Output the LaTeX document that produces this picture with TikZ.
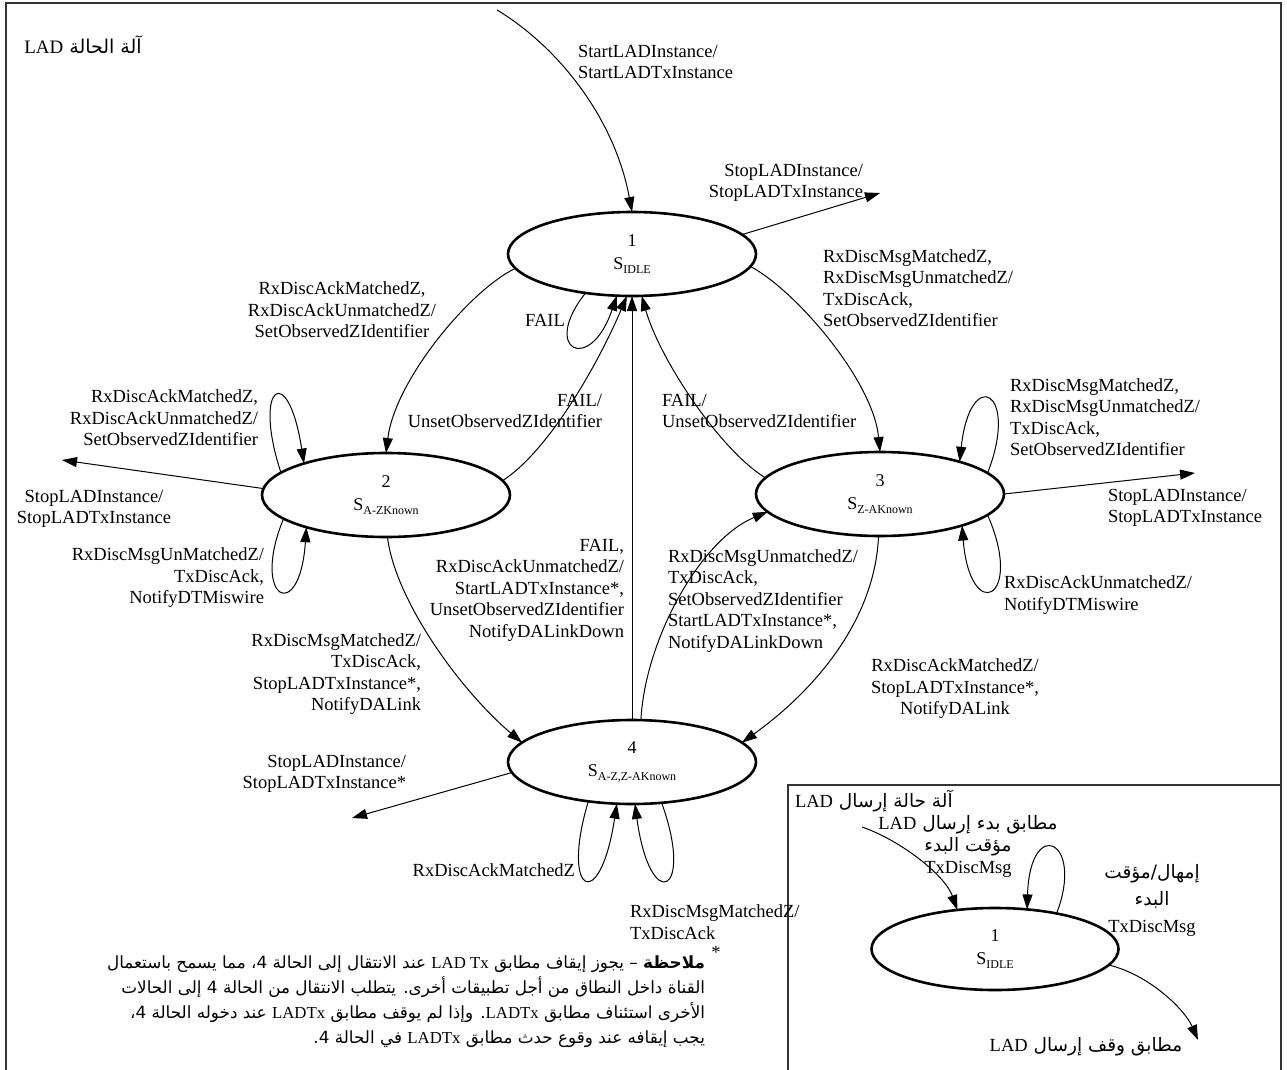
\documentclass[tikz,border=0pt]{standalone}
\usepackage{fontspec}
\setmainfont{Liberation Serif}
\newfontfamily\arabicfont[Script=Arabic]{DejaVu Sans}
\TeXXeTstate=1
\usetikzlibrary{arrows.meta,shapes.geometric}

% Latin words embedded in right-to-left text
\newcommand\lat[1]{\beginL{\rmfamily #1}\endL}
% state name with lowered index
\newcommand\stname[1]{S\raisebox{-0.45ex}{\fontsize{12}{12}\selectfont #1}}

\begin{document}
\begin{tikzpicture}[x=1pt,y=-1pt,
  every node/.style={inner sep=0pt,outer sep=0pt},
  lbl/.style={font=\fontsize{18.5}{21.5}\selectfont},
  ar/.style={font=\arabicfont\fontsize{18.5}{22}\selectfont},
  state/.style={ellipse,draw,line width=2.6pt,minimum width=248pt,minimum height=84pt,
    align=center,font=\fontsize{18}{23}\selectfont},
  conn/.style={line width=1pt,-{Triangle[length=15pt,width=10pt]}},
  frame/.style={line width=1.6pt,draw=black!80},
]
\useasboundingbox (0,0) rectangle (1287,1070);

% frames
\draw[frame] (6,1070) -- (6,3) -- (1281,3) -- (1281,1070);
\draw[frame] (788,1070) -- (788,785) -- (1281,785);

\node[ar,font=\arabicfont\fontsize{19}{22}\selectfont] (title) at (83,45) {\beginR آلة الحالة \lat{LAD}\endR};

% states of the LAD state machine
\node[state] (s1) at (632,254) {1\\\stname{IDLE}};
\node[state] (s2) at (386,495) {2\\\stname{A-ZKnown}};
\node[state] (s3) at (880,494) {3\\\stname{Z-AKnown}};
\node[state] (s4) at (632,762) {4\\\stname{A-Z,Z-AKnown}};

% free ends
\coordinate (startsrc) at (497,10);
\coordinate (stop1end) at (880,193);
\coordinate (stop2end) at (62,460);
\coordinate (stop3end) at (1195,473);
\coordinate (stop4end) at (352,818);

% transitions
\draw[conn] (startsrc) .. controls (560,48) and (615,120) .. (s1.north);
\draw[conn] (s1.10) -- (stop1end);
\draw[conn] (s1.187) .. controls (470,290) and (395,380) .. (s2.north);
\draw[conn] (s1.-6) .. controls (795,290) and (873,380) .. (s3.north);
\draw[conn] (s1.220) .. controls (540,350) and (590,375) .. (s1.250);
\draw[conn] (s2.7) .. controls (550,450) and (600,360) .. (s1.263);
\draw[conn] (s3.172) .. controls (720,450) and (660,360) .. (s1.-77);
\draw[conn] (s4.north) -- (s1.south);
\draw[conn] (s2.168) .. controls (252,385) and (288,360) .. (s2.159);
\draw[conn] (s2.177) -- (stop2end);
\draw[conn] (s2.193) .. controls (250,600) and (300,625) .. (s2.202);
\draw[conn] (s2.272) .. controls (395,600) and (460,690) .. (s4.170);
\draw[conn] (s4.78) .. controls (645,640) and (700,540) .. (s3.189);
\draw[conn] (s3.268) .. controls (875,620) and (815,690) .. (s4.10);
\draw[conn] (s3.11) .. controls (1020,390) and (970,365) .. (s3.22);
\draw[conn] (s3.east) -- (stop3end);
\draw[conn] (s3.-11) .. controls (1025,600) and (970,625) .. (s3.-21);
\draw[conn] (s4.185) -- (stop4end);
\draw[conn] (s4.222) .. controls (560,895) and (600,915) .. (s4.250);
\draw[conn] (s4.306) .. controls (695,895) and (650,915) .. (s4.274);

% transition labels
\node[lbl,anchor=west,align=left] (lstart) at (578,62) {StartLADInstance/\\StartLADTxInstance};
\node[lbl,anchor=east,align=right] (lstop1) at (863,183) {StopLADInstance/\\StopLADTxInstance};
\node[lbl,align=center] (l12) at (342,310) {RxDiscAckMatchedZ,\\RxDiscAckUnmatchedZ/\\SetObservedZIdentifier};
\node[lbl,anchor=west,align=left] (l13) at (823,288) {RxDiscMsgMatchedZ,\\RxDiscMsgUnmatchedZ/\\TxDiscAck,\\SetObservedZIdentifier};
\node[lbl] (lfail) at (545,320) {FAIL};
\node[lbl,anchor=east,align=right] (l21) at (602,411) {FAIL/\\UnsetObservedZIdentifier};
\node[lbl,anchor=west,align=left] (l31) at (662,411) {FAIL/\\UnsetObservedZIdentifier};
\node[lbl,anchor=east,align=right] (l22a) at (258,418) {RxDiscAckMatchedZ,\\RxDiscAckUnmatchedZ/\\SetObservedZIdentifier};
\node[lbl,align=center] (lstop2) at (94,509) {StopLADInstance/\\StopLADTxInstance};
\node[lbl,anchor=east,align=right] (l22b) at (264,578) {RxDiscMsgUnMatchedZ/\\TxDiscAck,\\NotifyDTMiswire};
\node[lbl,anchor=east,align=right] (l24) at (421,674) {RxDiscMsgMatchedZ/\\TxDiscAck,\\StopLADTxInstance*,\\NotifyDALink};
\node[lbl,anchor=east,align=right] (l41) at (624,590) {FAIL,\\RxDiscAckUnmatchedZ/\\StartLADTxInstance*,\\UnsetObservedZIdentifier\\NotifyDALinkDown};
\node[lbl,anchor=west,align=left] (l43) at (668,601) {RxDiscMsgUnmatchedZ/\\TxDiscAck,\\SetObservedZIdentifier\\StartLADTxInstance*,\\NotifyDALinkDown};
\node[lbl,align=center] (l34) at (955,689) {RxDiscAckMatchedZ/\\StopLADTxInstance*,\\NotifyDALink};
\node[lbl,anchor=west,align=left] (l33a) at (1010,417) {RxDiscMsgMatchedZ,\\RxDiscMsgUnmatchedZ/\\TxDiscAck,\\SetObservedZIdentifier};
\node[lbl,anchor=west,align=left] (lstop3) at (1108,508) {StopLADInstance/\\StopLADTxInstance};
\node[lbl,anchor=west,align=left] (l33b) at (1004,595) {RxDiscAckUnmatchedZ/\\NotifyDTMiswire};
\node[lbl,anchor=east,align=right] (lstop4) at (406,774) {StopLADInstance/\\StopLADTxInstance*};
\node[lbl,anchor=east] (l44a) at (575,870) {RxDiscAckMatchedZ};
\node[lbl,anchor=west,align=left] (l44b) at (630,922) {RxDiscMsgMatchedZ/\\TxDiscAck};

% note
\node[lbl] (star) at (716,952) {*};
\node[anchor=north east,align=right,font=\arabicfont\fontsize{16.8}{25}\selectfont] (note) at (705,956) {%
\beginR\textbf{ملاحظة} – يجوز إيقاف مطابق \lat{LAD Tx} عند الانتقال إلى الحالة 4، مما يسمح باستعمال\endR\\
\beginR القناة داخل النطاق من أجل تطبيقات أخرى. يتطلب الانتقال من الحالة 4 إلى الحالات\endR\\
\beginR الأخرى استئناف مطابق \lat{LADTx}. وإذا لم يوقف مطابق \lat{LADTx} عند دخوله الحالة 4،\endR\\
\beginR يجب إيقافه عند وقوع حدث مطابق \lat{LADTx} في الحالة 4.\endR};

% LAD transmit state machine
\node[ar,anchor=west] (txtitle) at (795,801) {\beginR آلة حالة إرسال \lat{LAD}\endR};
\node[state,minimum width=247pt,minimum height=82pt] (t1) at (995,949) {1\\\stname{IDLE}};
\coordinate (txin) at (862,827);
\coordinate (txout) at (1198,1040);
\draw[conn] (txin) .. controls (900,840) and (945,875) .. (t1.134);
\draw[conn] (t1.30) .. controls (1085,840) and (1030,815) .. (t1.51);
\draw[conn] (t1.-8) .. controls (1150,975) and (1185,1010) .. (txout);
\node[ar,align=center] (txstart) at (968,846) {\beginR مطابق بدء إرسال \lat{LAD}\endR\\\beginR مؤقت البدء\endR\\{\rmfamily TxDiscMsg}};
\node[ar,align=center,font=\arabicfont\fontsize{18.5}{27}\selectfont] (txloop) at (1152,900) {\beginR إمهال/مؤقت\endR\\\beginR البدء\endR\\{\rmfamily TxDiscMsg}};
\node[ar] (txstop) at (1086,1047) {\beginR مطابق وقف إرسال \lat{LAD}\endR};
\end{tikzpicture}
\end{document}
